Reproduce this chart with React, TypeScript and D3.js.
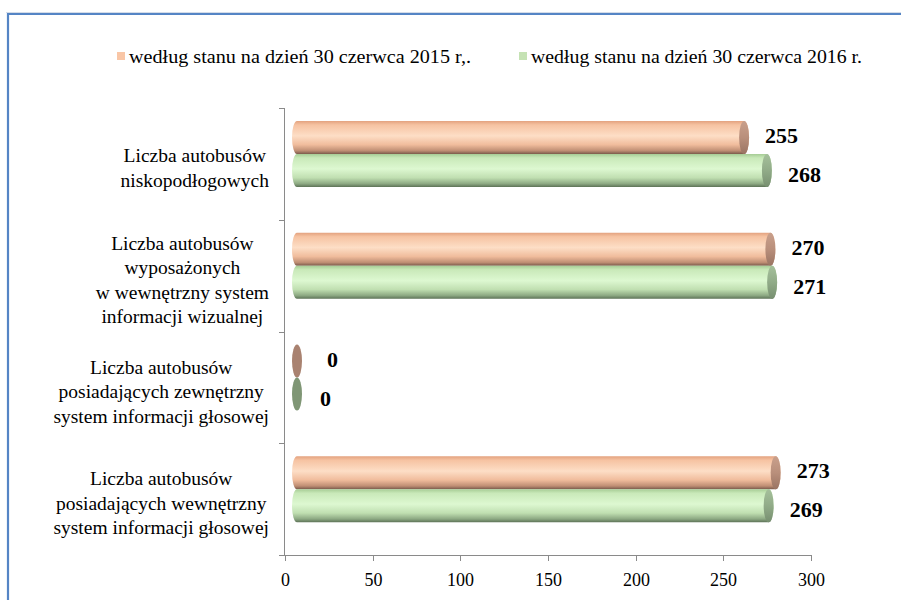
import { useMemo } from 'react'
import * as d3 from 'd3'

// category labels (one entry per line)
const categories: string[][] = [
  ['Liczba autobusów', 'niskopodłogowych'],
  ['Liczba autobusów', 'wyposażonych', 'w wewnętrzny system', 'informacji wizualnej'],
  ['Liczba autobusów', 'posiadających zewnętrzny', 'system informacji głosowej'],
  ['Liczba autobusów', 'posiadających wewnętrzny', 'system informacji głosowej'],
]

const seriesNames = ['według stanu na dzień 30 czerwca 2015 r,.', 'według stanu na dzień 30 czerwca 2016 r.']
const values2015 = [255, 270, 0, 273]
const values2016 = [268, 271, 0, 269]
const xTicks = [0, 50, 100, 150, 200, 250, 300]

const FONT = 'Liberation Serif'
const axisColor = '#8a8a8a'

const bodyStops = [
  [
    [0, '#e3a27f'], [0.12, '#f6c3a2'], [0.45, '#fddec6'], [0.72, '#f0bc9c'], [0.9, '#bf8e74'], [1, '#7a5a4b'],
  ],
  [
    [0, '#a6cc95'], [0.12, '#c9e9b9'], [0.45, '#ddf8d1'], [0.72, '#c0dfb1'], [0.9, '#8da983'], [1, '#5d7257'],
  ],
]
const capStops = [
  [[0, '#c9a08c'], [0.5, '#b98f7b'], [1, '#9a7463']],
  [[0, '#a5c09b'], [0.5, '#91ab88'], [1, '#778f70']],
]
const zeroCap = ['#a98270', '#7f9675']
const legendColors = ['#f9c6a6', '#c5e2b4']

function measure(text: string, size: number) {
  const c = document.createElement('canvas').getContext('2d')
  if (!c) return text.length * size * 0.45
  c.font = `${size}px "${FONT}"`
  return c.measureText(text).width
}

export default function App() {
  const x = d3.scaleLinear().domain([0, 300]).range([285, 811])
  const y = d3
    .scaleBand<number>()
    .domain(categories.map((_, i) => i))
    .range([108, 555])
  const sub = d3.scaleBand<number>().domain([0, 1]).range([13, 79])
  const series = [values2015, values2016]

  const labelSize = 19.5
  const centers = useMemo(
    () => categories.map((lines) => 269 - d3.max(lines, (l) => measure(l, labelSize))! / 2),
    []
  )

  const rx = 5
  const shift = 12
  const h = sub.bandwidth()
  const ry = h / 2
  const catTicks = [108, ...categories.map((_, i) => (y(i) || 0) + y.bandwidth())]

  return (
    <svg width={901} height={600} style={{ position: 'absolute', left: 0, top: 0, display: 'block' }}>
      <defs>
        {bodyStops.map((stops, s) => (
          <linearGradient key={'b' + s} id={'body' + s} x1={0} x2={0} y1={0} y2={1}>
            {stops.map((st, k) => (
              <stop key={k} offset={st[0] as number} stopColor={st[1] as string} />
            ))}
          </linearGradient>
        ))}
        {capStops.map((stops, s) => (
          <linearGradient key={'c' + s} id={'cap' + s} x1={0} x2={0} y1={0} y2={1}>
            {stops.map((st, k) => (
              <stop key={k} offset={st[0] as number} stopColor={st[1] as string} />
            ))}
          </linearGradient>
        ))}
      </defs>

      {/* frame */}
      <rect x={0} y={0} width={901} height={600} fill="#fff" />
      <line x1={6} x2={901} y1={12.5} y2={12.5} stroke="#d4dce8" />
      <path d="M8,602 V14 H903" fill="none" stroke="#5585c5" strokeWidth={2.2} />

      {/* legend */}
      {seriesNames.map((name, i) => {
        const lx = [117, 519][i]
        return (
          <g key={name}>
            <rect x={lx} y={52} width={8} height={8} fill={legendColors[i]} />
            <text
              x={lx + 12}
              y={56}
              dy="0.35em"
              fontFamily={FONT}
              fontSize={19}
              textLength={[342, 331][i]}
              lengthAdjust="spacingAndGlyphs"
            >
              {name}
            </text>
          </g>
        )
      })}

      {/* category axis */}
      <line x1={284.5} x2={284.5} y1={108} y2={555} stroke={axisColor} />
      {catTicks.map((t) => (
        <line key={t} x1={279} x2={284.5} y1={Math.round(t) + 0.5} y2={Math.round(t) + 0.5} stroke={axisColor} />
      ))}

      {/* value axis */}
      <line x1={x(0) - 6} x2={x(300)} y1={555.5} y2={555.5} stroke={axisColor} />
      {xTicks.map((t) => (
        <g key={t} transform={`translate(${Math.round(x(t)) + 0.5},555)`}>
          <line y1={0} y2={6} stroke={axisColor} />
          <text y={25} dy="0.32em" textAnchor="middle" fontFamily={FONT} fontSize={18}>
            {t}
          </text>
        </g>
      ))}

      {/* category labels */}
      {categories.map((lines, i) => {
        const cy = (y(i) || 0) + y.bandwidth() / 2 + 4
        return (
          <g key={i}>
            {lines.map((l, j) => (
              <text
                key={j}
                x={centers[i]}
                y={cy + (j - (lines.length - 1) / 2) * 24.5}
                dy="0.35em"
                textAnchor="middle"
                fontFamily={FONT}
                fontSize={labelSize}
              >
                {l}
              </text>
            ))}
          </g>
        )
      })}

      {/* cylinders */}
      {categories.map((_, i) =>
        series.map((vals, s) => {
          const v = vals[i]
          const top = (y(i) || 0) + (sub(s) || 0)
          const x0 = x(0) + shift
          const x1 = x(v) + shift
          const dx = v === 0 ? (s === 0 ? 25 : 18) : 16
          return (
            <g key={`${i}-${s}`}>
              {x1 - x0 > 0.5 && (
                <path
                  d={`M${x0},${top} H${x1} A${rx},${ry} 0 0 1 ${x1},${top + h} H${x0} A${rx},${ry} 0 0 1 ${x0},${top} Z`}
                  fill={`url(#body${s})`}
                />
              )}
              <ellipse cx={x1} cy={top + ry} rx={rx} ry={ry} fill={v === 0 ? zeroCap[s] : `url(#cap${s})`} />
              <text
                x={x1 + rx + dx}
                y={top + ry + (s === 0 ? -2 : 4)}
                dy="0.35em"
                fontFamily={FONT}
                fontSize={22}
                fontWeight="bold"
              >
                {v}
              </text>
            </g>
          )
        })
      )}
    </svg>
  )
}
